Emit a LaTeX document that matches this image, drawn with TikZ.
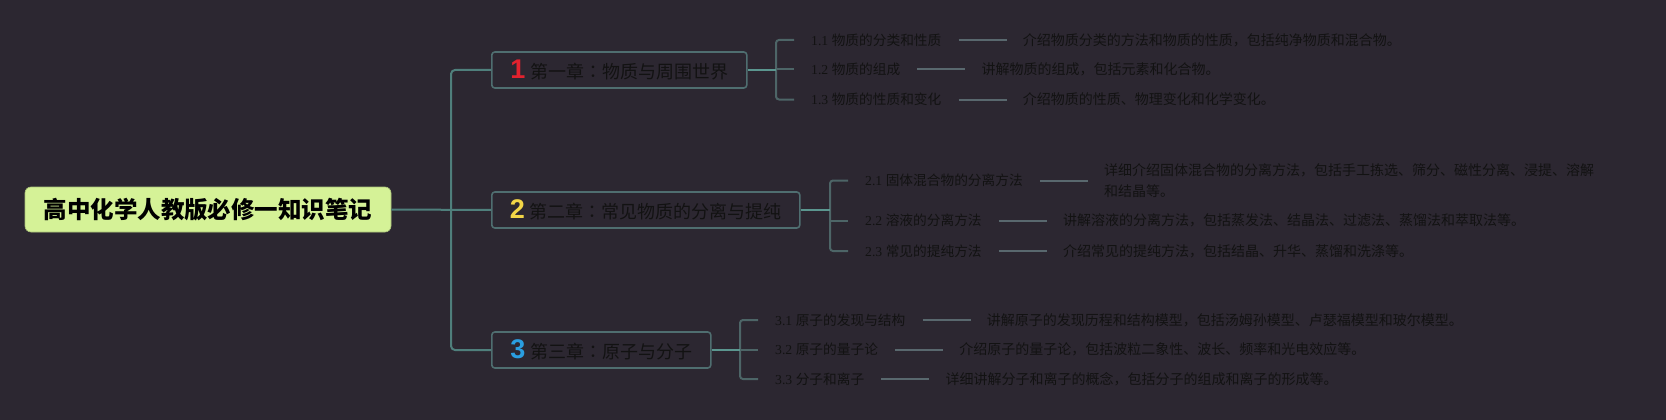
\documentclass[tikz,border=0pt]{standalone}
\usepackage{fontspec}
\setmainfont{Liberation Serif}
\newfontfamily\cjk{Noto Sans CJK SC}
\newfontfamily\cjkpunct{Noto Sans CJK TC}
\newfontfamily\numfont{Liberation Sans}
\usepackage{xcolor}
\usetikzlibrary{positioning}
\definecolor{bgdark}{HTML}{2C2731}
\definecolor{rootfill}{HTML}{D5F297}
\definecolor{trunkc}{HTML}{4F7F7C}
\definecolor{linkc}{HTML}{5B968F}
\definecolor{brackc}{HTML}{4D6567}
\definecolor{boxc}{HTML}{4F6E70}
\definecolor{leafc}{HTML}{59686E}
\definecolor{inkc}{HTML}{121212}
\definecolor{numred}{HTML}{E2222E}
\definecolor{numyellow}{HTML}{F2D547}
\definecolor{numblue}{HTML}{2A9EE0}

\begin{document}
\begin{tikzpicture}[x=1pt,y=-1pt,line join=round,
  rootbox/.style={draw=rootfill!80!black,line width=0.6pt,fill=rootfill,rounded corners=6pt,
    minimum width=366pt,minimum height=45pt,inner sep=0pt,text=black,
    font=\cjk\bfseries\fontsize{23.5}{26}\selectfont},
  chapbox/.style={draw=boxc,line width=1.6pt,rounded corners=3pt,anchor=west,
    minimum height=36pt,inner sep=0pt,text=inkc,font=\cjk\fontsize{18}{20}\selectfont},
  subtxt/.style={anchor=west,inner xsep=17pt,inner ysep=2pt,text=inkc,
    font=\fontsize{13.7}{16}\selectfont},
  desctxt/.style={right=48pt of #1,inner xsep=16pt,inner ysep=2pt,text=inkc,align=left,
    font=\cjk\fontsize{14}{21}\selectfont},
  trunk/.style={draw=trunkc,line width=2pt},
  link/.style={draw=linkc,line width=2pt},
  brack/.style={draw=brackc,line width=2pt,rounded corners=3pt},
  leaf/.style={draw=leafc,line width=2pt}]
  \fill[bgdark] (0,0) rectangle (1666,420);
  \useasboundingbox (0,0) rectangle (1666,420);
  % root and chapters
  \node[rootbox] (root) at (208,209.5) {高中化学人教版必修一知识笔记};
  \node[chapbox,minimum width=255pt] (ch1) at (491,70)
    {{\numfont\bfseries\fontsize{27}{27}\selectfont\color{numred}1}\hspace{5pt}第一章{\cjkpunct ：}物质与周围世界};
  \node[chapbox,minimum width=308pt] (ch2) at (491,210)
    {{\numfont\bfseries\fontsize{27}{27}\selectfont\color{numyellow}2}\hspace{5pt}第二章{\cjkpunct ：}常见物质的分离与提纯};
  \node[chapbox,minimum width=219pt] (ch3) at (491,350)
    {{\numfont\bfseries\fontsize{27}{27}\selectfont\color{numblue}3}\hspace{5pt}第三章{\cjkpunct ：}原子与分子};
  \coordinate (T) at (451,210);
  \draw[trunk] (root.east) -- (ch2.west);
  \draw[trunk,rounded corners=4pt] (ch1.west) -| (T) |- (ch3.west);
  % chapter 1
  \coordinate (K1) at (776,70);
  \node[subtxt] (s11) at (794,40) {1.1 \cjk 物质的分类和性质};
  \node[subtxt] (s12) at (794,69.5) {1.2 \cjk 物质的组成};
  \node[subtxt] (s13) at (794,99.5) {1.3 \cjk 物质的性质和变化};
  \node[desctxt=s11] (d11) {介绍物质分类的方法和物质的性质，包括纯净物质和混合物。};
  \node[desctxt=s12] (d12) {讲解物质的组成，包括元素和化合物。};
  \node[desctxt=s13] (d13) {介绍物质的性质、物理变化和化学变化。};
  % chapter 2
  \coordinate (K2) at (830,210);
  \node[subtxt] (s21) at (848,180.5) {2.1 \cjk 固体混合物的分离方法};
  \node[subtxt] (s22) at (848,220.5) {2.2 \cjk 溶液的分离方法};
  \node[subtxt] (s23) at (848,251) {2.3 \cjk 常见的提纯方法};
  \node[desctxt=s21] (d21) {详细介绍固体混合物的分离方法，包括手工拣选、筛分、磁性分离、浸提、溶解\\和结晶等。};
  \node[desctxt=s22] (d22) {讲解溶液的分离方法，包括蒸发法、结晶法、过滤法、蒸馏法和萃取法等。};
  \node[desctxt=s23] (d23) {介绍常见的提纯方法，包括结晶、升华、蒸馏和洗涤等。};
  % chapter 3
  \coordinate (K3) at (740,350);
  \node[subtxt] (s31) at (758,320) {3.1 \cjk 原子的发现与结构};
  \node[subtxt] (s32) at (758,349.5) {3.2 \cjk 原子的量子论};
  \node[subtxt] (s33) at (758,379) {3.3 \cjk 分子和离子};
  \node[desctxt=s31] (d31) {讲解原子的发现历程和结构模型，包括汤姆孙模型、卢瑟福模型和玻尔模型。};
  \node[desctxt=s32] (d32) {介绍原子的量子论，包括波粒二象性、波长、频率和光电效应等。};
  \node[desctxt=s33] (d33) {详细讲解分子和离子的概念，包括分子的组成和离子的形成等。};
  % brackets
  \foreach \c/\a/\b/\m in {1/s11/s13/s12,2/s21/s23/s22,3/s31/s33/s32}{
    \draw[brack] (\a.west) -| (K\c) |- (\b.west);
    \draw[brack] (K\c |- \m.west) -- (\m.west);
    \draw[link] (ch\c.east) -- (K\c);
  }
  % leaf lines
  \foreach \n in {11,12,13,21,22,23,31,32,33}
    \draw[leaf] (s\n.east) -- (d\n.west);
\end{tikzpicture}
\end{document}
